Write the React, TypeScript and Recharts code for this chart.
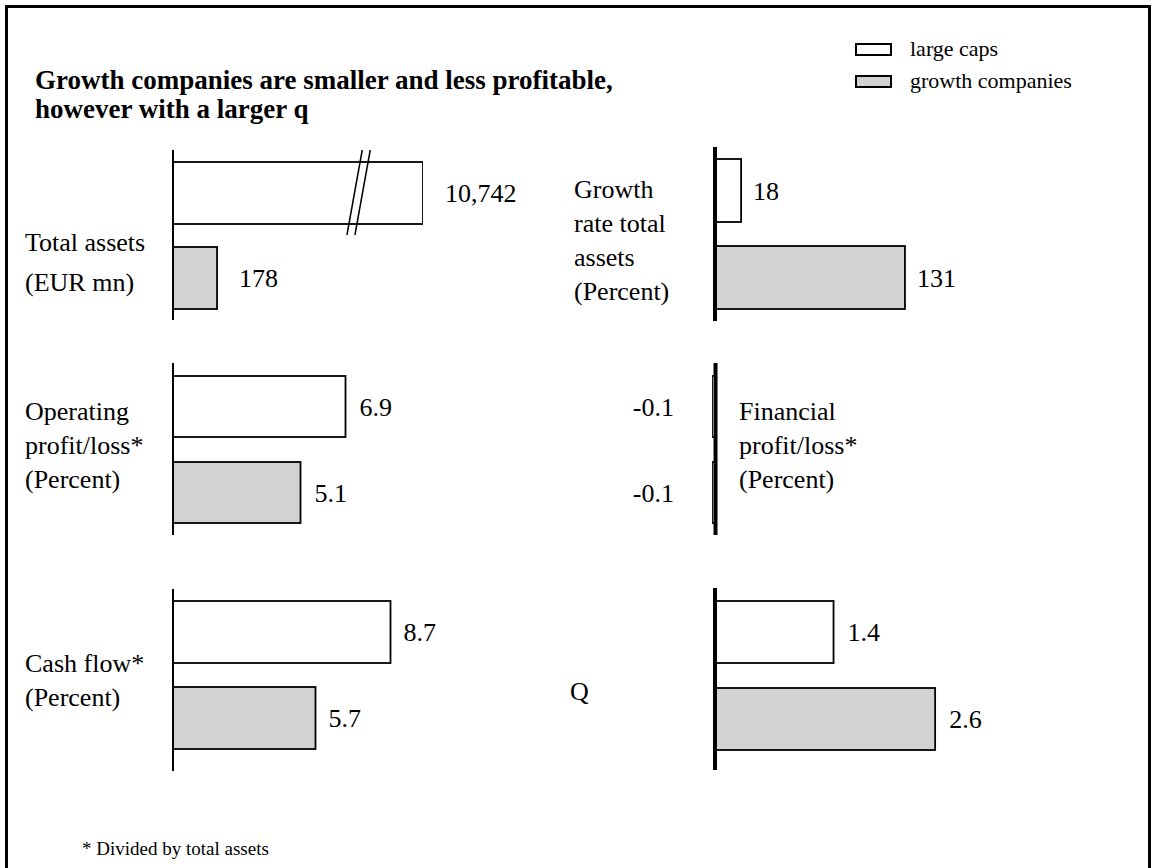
import React from "react";
import { BarChart, Bar, XAxis, YAxis, Cell, LabelList, ReferenceLine } from "recharts";

// two groups compared in every panel
const GROUPS = ["large caps", "growth companies"];
const FILLS = ["#ffffff", "#d2d2d2"];

// values: [large caps, growth companies]
const totalAssets = [10742, 178]; // EUR mn
const operatingProfit = [6.9, 5.1]; // percent of total assets
const cashFlow = [8.7, 5.7];
const growthTotalAssets = [18, 131]; // percent
const financialProfit = [-0.1, -0.1];
const qRatio = [1.4, 2.6];

// total assets axis is cut here; longer bars get a break mark
const TOTAL_ASSETS_BREAK = 1010;

const FONT = "'Liberation Serif', 'Times New Roman', serif";
const PAD = 12; // svg room above/below the plot for break marks

const fmt = (v: number) => v.toLocaleString("en-US");

function BarShape(props: any) {
  let { x, y, width, height } = props;
  const { fill, payload } = props;
  if (width < 0) {
    x += width;
    width = -width;
  }
  const rect = (
    <rect x={x} y={y} width={width} height={height} fill={fill} stroke="#000" strokeWidth={1.8} />
  );
  if (!payload || !payload.broken) return rect;
  // pair of slanted strokes marking the axis break
  const mid = y + height / 2;
  const top = y - 12;
  const bot = y + height + 11;
  const slope = 0.18;
  const at = (cx: number) => (
    <line
      x1={cx - slope * (bot - mid)}
      y1={bot}
      x2={cx + slope * (mid - top)}
      y2={top}
      stroke="#000"
      strokeWidth={1.5}
    />
  );
  const cx = x + width * 0.726;
  return (
    <g>
      {rect}
      {at(cx)}
      {at(cx + 8)}
    </g>
  );
}

type PanelProps = {
  values: number[];
  axisX: number;
  top: number;
  height: number;
  width: number;
  domain: [number, number];
  barSize: number;
  axisWidth: number;
  labelOffset: number;
  cap?: number;
  padLeft?: number;
  padBottom?: number;
};

function Panel({
  values,
  axisX,
  top,
  height,
  width,
  domain,
  barSize,
  axisWidth,
  labelOffset,
  cap,
  padLeft = 0,
  padBottom = 0,
}: PanelProps) {
  const data = GROUPS.map((g, i) => ({
    name: g,
    value: cap ? Math.min(values[i], cap) : values[i],
    label: fmt(values[i]),
    broken: cap ? values[i] > cap : false,
  }));
  const left = 120;
  const right = 120;
  // plot starts at axisX unless the domain has room for negative bars
  const plotLeft = axisX - padLeft;
  return (
    <div style={{ position: "absolute", left: plotLeft - left, top: top - PAD }}>
      <BarChart
        width={left + width + right}
        height={height + 2 * PAD}
        data={data}
        layout="vertical"
        margin={{ top: PAD, bottom: PAD, left, right }}
      >
        <XAxis type="number" domain={domain} hide allowDataOverflow />
        <YAxis type="category" dataKey="name" hide padding={{ top: 0, bottom: padBottom }} />
        <Bar dataKey="value" barSize={barSize} shape={BarShape} isAnimationActive={false}>
          {data.map((d, i) => (
            <Cell key={d.name} fill={FILLS[i]} />
          ))}
          <LabelList
            dataKey="label"
            position="right"
            offset={labelOffset}
            style={{ fontSize: 26, fontFamily: FONT, fill: "#000" }}
          />
        </Bar>
        <ReferenceLine x={0} stroke="#000" strokeWidth={axisWidth} />
      </BarChart>
    </div>
  );
}

function Caption({ lines, left, top, lh = 34 }: { lines: string[]; left: number; top: number; lh?: number }) {
  return (
    <div style={{ position: "absolute", left, top, fontSize: 26, lineHeight: `${lh}px`, whiteSpace: "nowrap" }}>
      {lines.map((l) => (
        <div key={l}>{l}</div>
      ))}
    </div>
  );
}

function LegendRow({ fill, label, top }: { fill: string; label: string; top: number }) {
  return (
    <div style={{ position: "absolute", left: 855, top, display: "flex", alignItems: "center", fontSize: 22 }}>
      <span style={{ width: 33, height: 9, border: "2px solid #000", background: fill, marginRight: 18 }} />
      <span>{label}</span>
    </div>
  );
}

export default function App() {
  return (
    <div
      style={{
        position: "absolute",
        left: 0,
        top: 0,
        width: 1155,
        height: 868,
        background: "#fff",
        overflow: "hidden",
        fontFamily: FONT,
        color: "#000",
      }}
    >
      <div style={{ position: "absolute", left: 5, top: 5, width: 1140, height: 900, border: "3px solid #000" }} />

      <div style={{ position: "absolute", left: 35, top: 66, fontSize: 27, fontWeight: "bold", lineHeight: "29px" }}>
        <div>Growth companies are smaller and less profitable,</div>
        <div>however with a larger q</div>
      </div>

      <LegendRow fill={FILLS[0]} label={GROUPS[0]} top={36} />
      <LegendRow fill={FILLS[1]} label={GROUPS[1]} top={68} />

      {/* left column */}
      <Caption lines={["Total assets", "(EUR mn)"]} left={25} top={223} lh={40} />
      <Panel
        values={totalAssets}
        axisX={173}
        top={150}
        height={170}
        width={250}
        domain={[0, TOTAL_ASSETS_BREAK]}
        cap={TOTAL_ASSETS_BREAK}
        barSize={62}
        axisWidth={2}
        labelOffset={22}
      />

      <Caption lines={["Operating", "profit/loss*", "(Percent)"]} left={25} top={395} />
      <Panel
        values={operatingProfit}
        axisX={173}
        top={363}
        height={172}
        width={250}
        domain={[0, 10]}
        barSize={61}
        axisWidth={2}
        labelOffset={14}
      />

      <Caption lines={["Cash flow*", "(Percent)"]} left={25} top={647} />
      <Panel
        values={cashFlow}
        axisX={173}
        top={589}
        height={182}
        padBottom={10}
        width={250}
        domain={[0, 10]}
        barSize={62}
        axisWidth={2}
        labelOffset={13}
      />

      {/* right column */}
      <Caption lines={["Growth", "rate total", "assets", "(Percent)"]} left={574} top={173} />
      <Panel
        values={growthTotalAssets}
        axisX={715}
        top={147}
        height={174}
        width={232}
        domain={[0, 160]}
        barSize={63}
        axisWidth={4}
        labelOffset={12}
      />

      <Caption lines={["Financial", "profit/loss*", "(Percent)"]} left={739} top={395} />
      <Panel
        values={financialProfit}
        axisX={715}
        top={363}
        height={172}
        width={74}
        padLeft={3.5}
        domain={[-0.1, 2]}
        barSize={61}
        axisWidth={4}
        labelOffset={38}
      />

      <Caption lines={["Q"]} left={570} top={675} />
      <Panel
        values={qRatio}
        axisX={715}
        top={588}
        height={182}
        padBottom={8}
        width={254}
        domain={[0, 3]}
        barSize={62}
        axisWidth={4}
        labelOffset={14}
      />

      <div style={{ position: "absolute", left: 82, top: 838, fontSize: 19 }}>* Divided by total assets</div>
    </div>
  );
}
